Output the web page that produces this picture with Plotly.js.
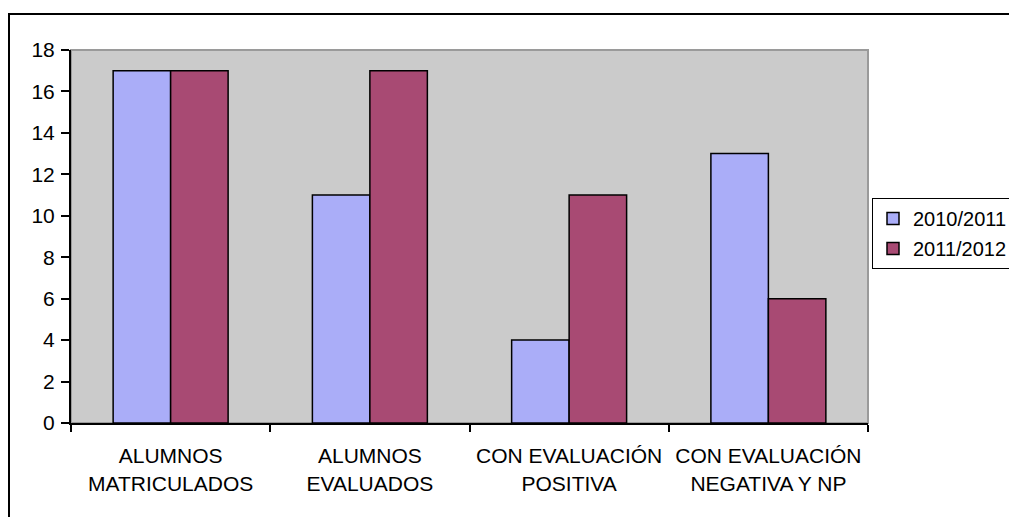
<!DOCTYPE html>
<html>
<head>
<meta charset="utf-8">
<script src="https://cdn.plot.ly/plotly-3.0.1.min.js"></script>
<style>
  html, body { margin: 0; padding: 0; background: #ffffff; }
  #chart { width: 1009px; height: 517px; }
</style>
</head>
<body>
<div id="chart"></div>
<script>
// Categories and values per school year
const categories = [
  'ALUMNOS<br>MATRICULADOS',
  'ALUMNOS<br>EVALUADOS',
  'CON EVALUACIÓN<br>POSITIVA',
  'CON EVALUACIÓN<br>NEGATIVA Y NP'
];
const seriesNames = ['2010/2011', '2011/2012'];
const values2010 = [17, 11, 4, 13];
const values2011 = [17, 17, 11, 6];
const yTicks = [0, 2, 4, 6, 8, 10, 12, 14, 16, 18];
const gridTicks = [2, 4, 6, 8, 10, 12, 14, 16];

const FONT = '"Liberation Sans", Arial, sans-serif';
const colors = ['#AAADF8', '#A84A73'];

const traces = [
  {
    type: 'bar', name: seriesNames[0], x: categories, y: values2010,
    legendgroup: 'a',
    marker: { color: colors[0], line: { color: '#000000', width: 1.5 } },
    hoverinfo: 'skip'
  },
  {
    type: 'bar', name: seriesNames[1], x: categories, y: values2011,
    legendgroup: 'b',
    marker: { color: colors[1], line: { color: '#000000', width: 1.5 } },
    hoverinfo: 'skip'
  }
];

// pixel geometry of the plotting area, used to place the outer frame in paper units
const W = 1009, H = 517, L = 71, R = 141, T = 50, B = 94;
const pw = W - L - R, ph = H - T - B;
const px = v => (v - L) / pw;
const py = v => (H - B - v) / ph;

const layout = {
  width: W, height: H,
  margin: { l: L, r: R, t: T, b: B, pad: 0, autoexpand: false },
  paper_bgcolor: '#ffffff',
  plot_bgcolor: '#CBCBCB',
  font: { family: FONT, size: 21, color: '#000000' },
  barmode: 'group',
  bargap: 0.423,
  bargroupgap: 0,
  showlegend: true,
  legend: {
    x: px(872), xanchor: 'left',
    y: py(198), yanchor: 'top',
    bgcolor: '#ffffff',
    bordercolor: '#000000',
    borderwidth: 1,
    font: { family: FONT, size: 20, color: '#000000' },
    traceorder: 'grouped',
    tracegroupgap: 1,
    itemwidth: 30
  },
  xaxis: {
    type: 'category',
    showline: true, linecolor: '#000000', linewidth: 2,
    ticks: 'outside', tickson: 'boundaries', ticklen: 7, tickwidth: 2, tickcolor: '#000000',
    tickfont: { family: FONT, size: 21, color: '#000000' },
    ticklabelstandoff: 13,
    showgrid: false, zeroline: false, fixedrange: true
  },
  yaxis: {
    range: [0, 18],
    tickvals: yTicks,
    showline: true, linecolor: '#000000', linewidth: 2,
    ticks: 'outside', ticklen: 8, tickwidth: 2, tickcolor: '#000000',
    tickfont: { family: FONT, size: 21, color: '#000000' },
    ticklabelstandoff: 2,
    showgrid: false, zeroline: false, fixedrange: true
  },
  // black grid lines between the bottom axis and the top edge
  yaxis2: {
    overlaying: 'y', range: [0, 18],
    tickvals: gridTicks,
    showticklabels: false, ticks: '',
    showgrid: true, gridcolor: '#000000', gridwidth: 2,
    showline: false, zeroline: false, fixedrange: true
  },
  shapes: [
    // plot area edge
    {
      type: 'rect', xref: 'paper', yref: 'paper', layer: 'below',
      x0: 0, x1: 1, y0: 0, y1: 1,
      line: { color: '#9A9A9A', width: 2 }
    },
    // outer frame around the chart
    {
      type: 'rect', xref: 'paper', yref: 'paper', layer: 'below',
      x0: px(9), x1: px(1020), y0: py(530), y1: py(14),
      line: { color: '#000000', width: 2 }
    }
  ]
};

Plotly.newPlot('chart', traces, layout, { displayModeBar: false, staticPlot: true });
</script>
</body>
</html>
